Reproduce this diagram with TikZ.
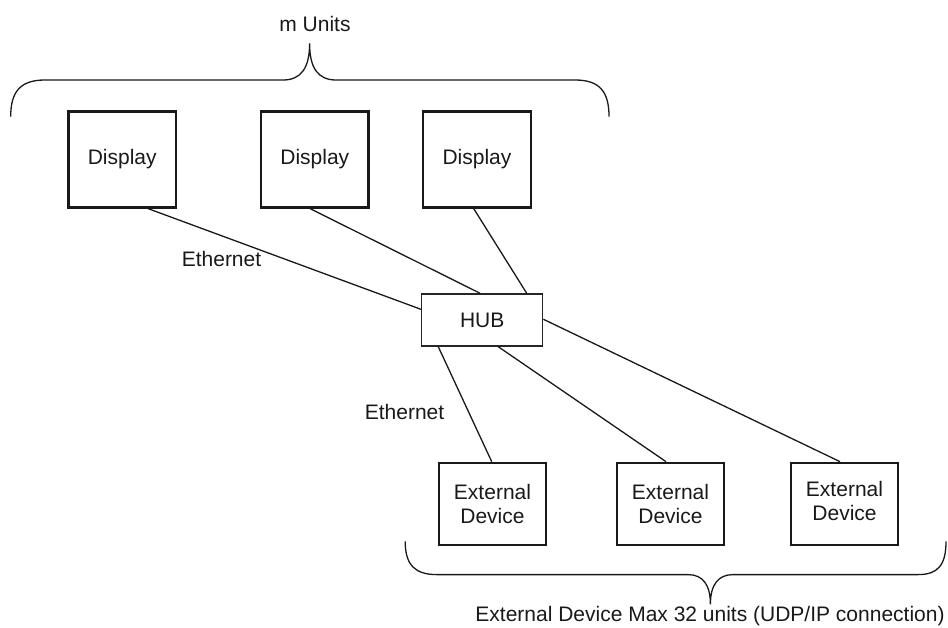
\documentclass[tikz,border=0pt]{standalone}
\usepackage{fontspec}
\setmainfont{Liberation Sans}
\begin{document}
\begin{tikzpicture}[x=1pt,y=-1pt,
  every node/.style={font=\fontsize{21}{24.3}\selectfont, text=black!90},
  devbox/.style={draw=black!90, line width=2.2pt, minimum width=107.5pt, inner sep=0pt},
  dispbox/.style={devbox, minimum height=96pt},
  extbox/.style={devbox, minimum height=82.3pt, align=center},
  hubbox/.style={draw=black!85, line width=1.5pt, minimum width=121pt, minimum height=52pt, inner sep=0pt},
  wire/.style={draw=black!90, line width=1.3pt},
  brace/.style={draw=black!90, line width=1.3pt},
  lbl/.style={inner sep=0pt}]
\useasboundingbox (0,0) rectangle (948,627);

% displays
\node[dispbox] (d1) at (122.2,159.5) {Display};
\node[dispbox] (d2) at (314.8,159.5) {Display};
\node[dispbox] (d3) at (477.0,159.5) {Display};

% hub
\node[hubbox] (hub) at (482.2,320) {HUB};

% external devices
\node[extbox] (e1) at (492.5,503.9) {External\\Device};
\node[extbox] (e2) at (670.5,503.9) {External\\Device};
\node[extbox] (e3) at (844.5,503.9) {\raisebox{3pt}{\begin{tabular}{@{}c@{}}External\\Device\end{tabular}}};

% connectors
\draw[wire] ([xshift=25.8pt]d1.south) -- ([yshift=10.7pt]hub.west);
\draw[wire] ([xshift=-4.8pt]d2.south) -- ([xshift=-2.2pt]hub.north);
\draw[wire] ([xshift=-3.3pt]d3.south) -- ([xshift=44.5pt]hub.north);
\draw[wire] ([yshift=0.7pt]hub.east) -- ([xshift=-4.5pt]e3.north);
\draw[wire] ([xshift=-43.9pt]hub.south) -- ([xshift=-0.8pt]e1.north);
\draw[wire] ([xshift=16.1pt]hub.south) -- ([xshift=-4.5pt]e2.north);

% labels
\node[lbl] (eth1) at (221.5,258.5) {Ethernet};
\node[lbl] (eth2) at (404.5,411.5) {Ethernet};

% top brace
\draw[brace] (10.7,116.6) .. controls (10.7,92) and (20,80) .. (45,80)
  -- (283,80) .. controls (301,80) and (309.6,68) .. (309.6,43.5)
  .. controls (309.6,68) and (318,80) .. (336,80)
  -- (575,80) .. controls (600,80) and (609,92) .. (609,116.6);
\node[lbl] (mu) at (315,23.5) {m Units};

% bottom brace
\draw[brace] (405.2,541.4) .. controls (405.2,565) and (415,574.6) .. (437,574.6)
  -- (688,574.6) .. controls (703,574.6) and (710.4,585) .. (710.4,604.3)
  .. controls (710.4,585) and (718,574.6) .. (733,574.6)
  -- (918,574.6) .. controls (938,574.6) and (946,565) .. (946,541.4);
\node[lbl] (cap) at (710,616.5) {External Device Max 32 units (UDP/IP connection)};
\end{tikzpicture}
\end{document}
